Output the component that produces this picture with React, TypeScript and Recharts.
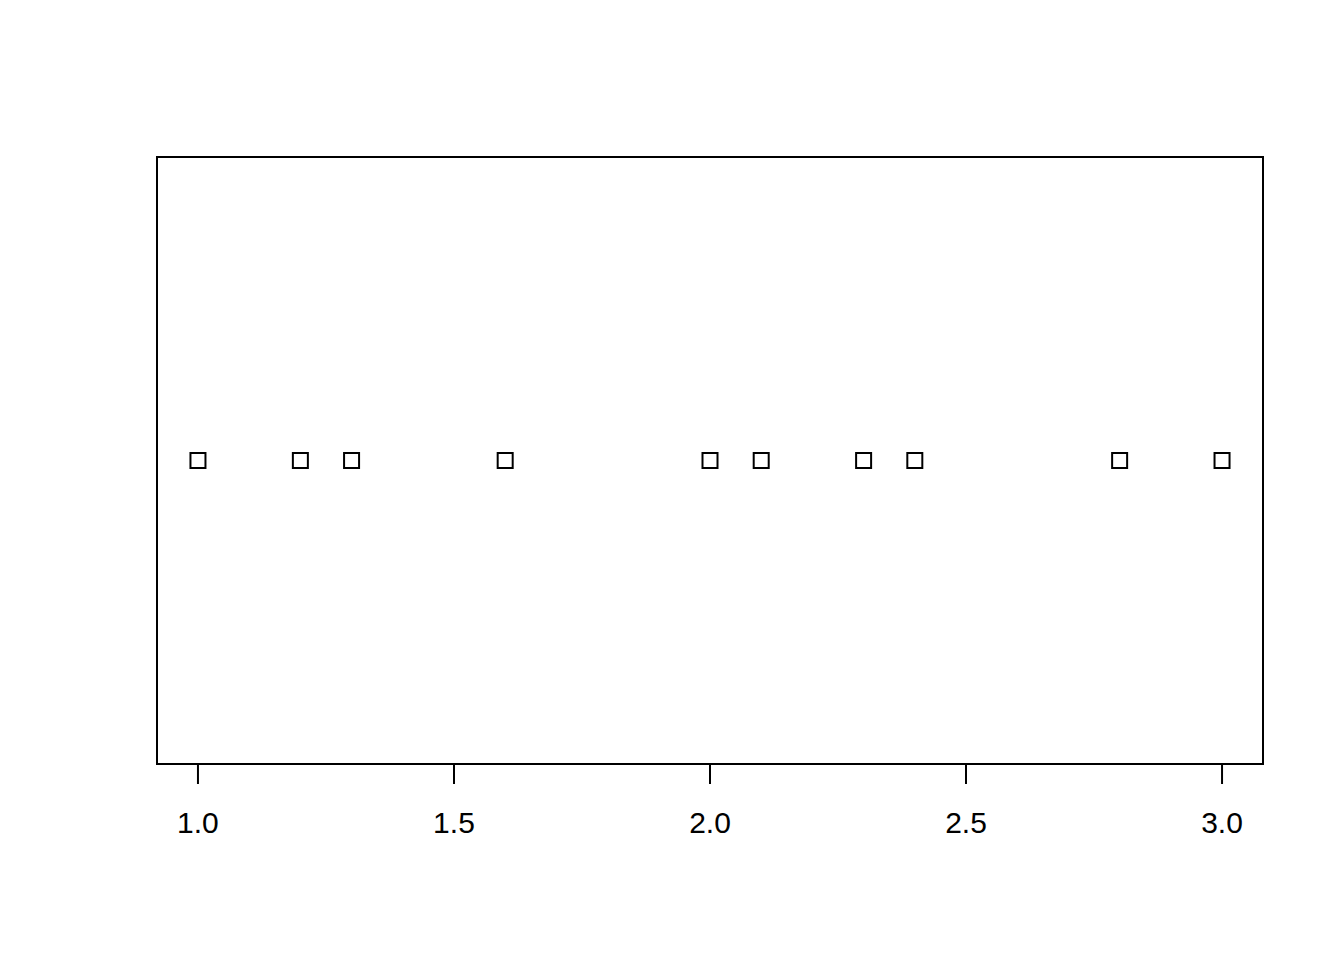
import { ScatterChart, Scatter, XAxis, YAxis, ReferenceArea } from "recharts"

const values = [1.0, 1.2, 1.3, 1.6, 2.0, 2.1, 2.3, 2.4, 2.8, 3.0]
const xTicks = [1.0, 1.5, 2.0, 2.5, 3.0]

const points = values.map((v) => ({ x: v, y: 1 }))

// open square, like pch=0 in a stripchart
const Square = (props: any) => {
  const { cx, cy } = props
  if (cx == null || cy == null) return null
  return <rect x={cx - 7.5} y={cy - 7.5} width={15} height={15} fill="none" stroke="#000" strokeWidth={2} />
}

export default function App() {
  return (
    <div style={{ position: "absolute", left: 0, top: 0, background: "#fff" }}>
      <ScatterChart width={1344} height={960} margin={{ top: 157, right: 81, left: 157, bottom: 136 }}>
        <XAxis
          type="number"
          dataKey="x"
          domain={[0.92, 3.08]}
          ticks={xTicks}
          allowDataOverflow
          axisLine={false}
          tickSize={20}
          tickMargin={28}
          height={60}
          tickLine={{ stroke: "#000", strokeWidth: 2 }}
          tick={{ fill: "#000", fontSize: 30, fontFamily: "Liberation Sans, Arial, sans-serif" }}
          tickFormatter={(v: number) => v.toFixed(1)}
        />
        <YAxis type="number" dataKey="y" domain={[0, 2]} hide />
        <ReferenceArea x1={0.92} x2={3.08} y1={0} y2={2} fill="none" stroke="#000" strokeWidth={2} />
        <Scatter data={points} shape={<Square />} isAnimationActive={false} />
      </ScatterChart>
    </div>
  )
}
